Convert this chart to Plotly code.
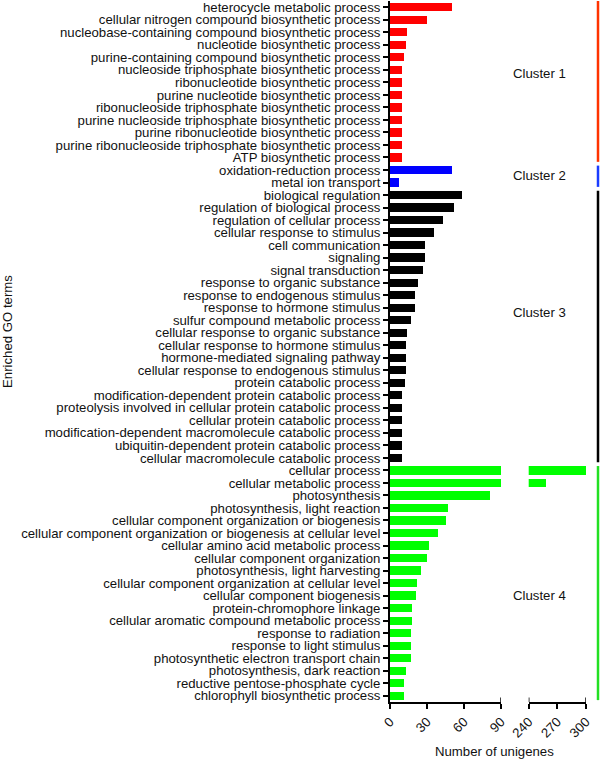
import plotly.graph_objects as go

terms = [
    "heterocycle metabolic process",
    "cellular nitrogen compound biosynthetic process",
    "nucleobase-containing compound biosynthetic process",
    "nucleotide biosynthetic process",
    "purine-containing compound biosynthetic process",
    "nucleoside triphosphate biosynthetic process",
    "ribonucleotide biosynthetic process",
    "purine nucleotide biosynthetic process",
    "ribonucleoside triphosphate biosynthetic process",
    "purine nucleoside triphosphate biosynthetic process",
    "purine ribonucleotide biosynthetic process",
    "purine ribonucleoside triphosphate biosynthetic process",
    "ATP biosynthetic process",
    "oxidation-reduction process",
    "metal ion transport",
    "biological regulation",
    "regulation of biological process",
    "regulation of cellular process",
    "cellular response to stimulus",
    "cell communication",
    "signaling",
    "signal transduction",
    "response to organic substance",
    "response to endogenous stimulus",
    "response to hormone stimulus",
    "sulfur compound metabolic process",
    "cellular response to organic substance",
    "cellular response to hormone stimulus",
    "hormone-mediated signaling pathway",
    "cellular response to endogenous stimulus",
    "protein catabolic process",
    "modification-dependent protein catabolic process",
    "proteolysis involved in cellular protein catabolic process",
    "cellular protein catabolic process",
    "modification-dependent macromolecule catabolic process",
    "ubiquitin-dependent protein catabolic process",
    "cellular macromolecule catabolic process",
    "cellular process",
    "cellular metabolic process",
    "photosynthesis",
    "photosynthesis, light reaction",
    "cellular component organization or biogenesis",
    "cellular component organization or biogenesis at cellular level",
    "cellular amino acid metabolic process",
    "cellular component organization",
    "photosynthesis, light harvesting",
    "cellular component organization at cellular level",
    "cellular component biogenesis",
    "protein-chromophore linkage",
    "cellular aromatic compound metabolic process",
    "response to radiation",
    "response to light stimulus",
    "photosynthetic electron transport chain",
    "photosynthesis, dark reaction",
    "reductive pentose-phosphate cycle",
    "chlorophyll biosynthetic process",
]

counts = [
    50, 30, 14, 13, 11, 10, 10, 10, 10, 10, 10, 10, 10,
    50, 7,
    58, 52, 43, 36, 28, 28, 27, 23, 20, 20, 17, 14, 13, 13, 13, 12, 10, 10, 10, 10, 10, 10,
    300, 258, 81, 47, 45, 39, 32, 30, 25, 22, 21, 18, 18, 17, 17, 17, 13, 11, 11,
]

cluster_names = ["Cluster 1", "Cluster 2", "Cluster 3", "Cluster 4"]
cluster_sizes = [13, 2, 22, 19]
bar_colors = ["#ff0000", "#0000ff", "#000000", "#00ff00"]
line_colors = ["#ff3300", "#1a3cff", "#000000", "#22e022"]
x_ticks_left = [0, 30, 60, 90]
x_ticks_right = [240, 270, 300]

FONT = "Arial, Liberation Sans, sans-serif"
FS = 13.2

cluster_of = []
for ci, n in enumerate(cluster_sizes):
    cluster_of += [ci] * n
colors = [bar_colors[c] for c in cluster_of]
idx = list(range(len(terms)))

fig = go.Figure()
fig.add_trace(go.Bar(
    y=idx, x=counts, orientation="h", marker=dict(color=colors, line=dict(width=0)),
    width=0.66, xaxis="x", yaxis="y", showlegend=False,
))
big = [i for i in idx if counts[i] > x_ticks_left[-1]]
fig.add_trace(go.Bar(
    y=big, x=[counts[i] for i in big], orientation="h",
    marker=dict(color=[colors[i] for i in big], line=dict(width=0)),
    width=0.66, xaxis="x2", yaxis="y", showlegend=False,
))

split = (501 - 390) / 196
start2 = (528.7 - 390) / 196

axis_common = dict(
    showline=True, linecolor="black", linewidth=2, ticks="outside",
    ticklen=5, tickwidth=1.5, tickcolor="black", showgrid=False, zeroline=False,
    tickangle=-45, tickfont=dict(family=FONT, size=FS, color="#111"),
    automargin=False, ticklabeloverflow="allow",
)
fig.update_layout(
    width=600, height=759,
    margin=dict(l=390, r=14, t=1, b=57, autoexpand=False),
    plot_bgcolor="white", paper_bgcolor="white",
    bargap=0,
    xaxis=dict(domain=[0, split], range=[0, 90], tickvals=x_ticks_left, anchor="y", **axis_common),
    xaxis2=dict(domain=[start2, 1], range=[240, 300], tickvals=x_ticks_right, anchor="y", **axis_common),
    yaxis=dict(
        range=[len(terms) - 0.5, -0.5], tickvals=idx, ticktext=terms,
        showline=True, linecolor="black", linewidth=2, ticks="outside", ticklen=5,
        tickwidth=1.5, tickcolor="black", showgrid=False, zeroline=False,
        tickfont=dict(family=FONT, size=FS, color="#111"), anchor="x",
        automargin=False, ticklabeloverflow="allow",
    ),
    font=dict(family=FONT, size=FS, color="#111"),
)

# end caps on broken axis
cap = 4.5 / 701
for xv, xr in [(90, "x"), (240, "x2"), (300, "x2")]:
    fig.add_shape(type="line", xref=xr, yref="paper", x0=xv, x1=xv, y0=0, y1=cap,
                  line=dict(color="black", width=1.5))

# cluster lines and labels
label_pos = [5.3, 13.45, 24.4, 47.0]
line_x = (598 - 390) / 196
s = 0
for ci, n in enumerate(cluster_sizes):
    y0 = s - 0.5 + 0.15 if ci > 0 else s - 0.6
    y1 = s + n - 1 + 0.5 - 0.15
    fig.add_shape(type="line", xref="paper", yref="y", x0=line_x, x1=line_x, y0=y0, y1=y1,
                  line=dict(color=line_colors[ci], width=2.5))
    fig.add_annotation(text=cluster_names[ci], xref="paper", yref="y",
                       x=(539 - 390) / 196, y=label_pos[ci], showarrow=False,
                       xanchor="center", yanchor="middle",
                       font=dict(family=FONT, size=FS, color="#111"))
    s += n

fig.add_annotation(text="Number of unigenes", xref="paper", yref="paper",
                   x=(494 - 390) / 196, y=-(751 - 702) / 701, showarrow=False,
                   xanchor="center", yanchor="middle",
                   font=dict(family=FONT, size=FS, color="#111"))
fig.add_annotation(text="Enriched GO terms", xref="paper", yref="paper",
                   x=(7 - 390) / 196, y=(702 - 332) / 701, textangle=-90, showarrow=False,
                   xanchor="center", yanchor="middle",
                   font=dict(family=FONT, size=FS, color="#111"))

fig.write_html("out.html", config={"displayModeBar": False},
               post_script="document.body.style.margin='0';document.body.style.overflow='hidden';")
